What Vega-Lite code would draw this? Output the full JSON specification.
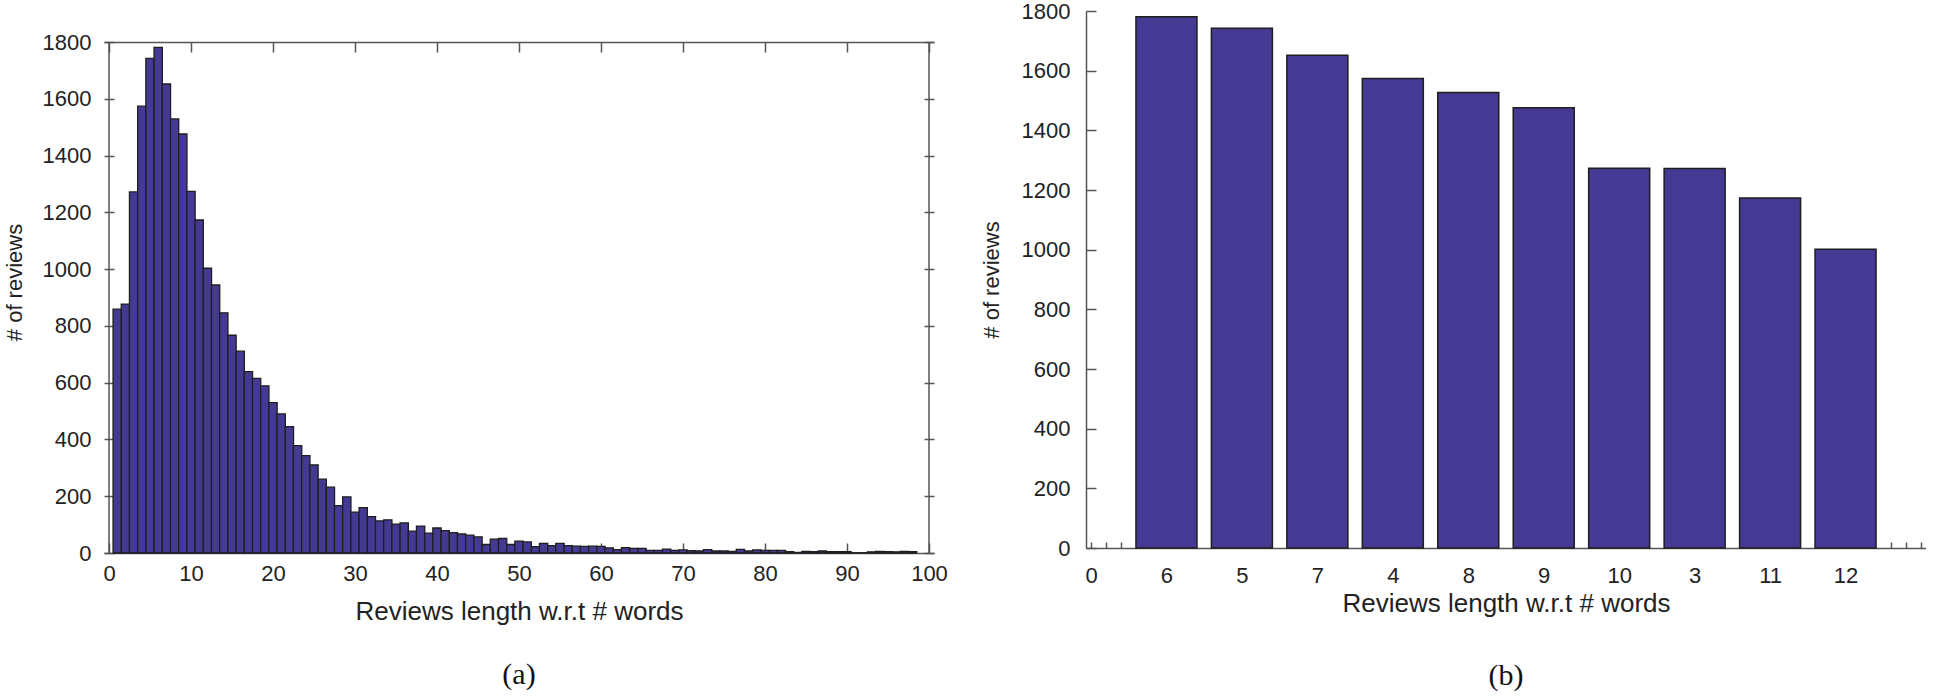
{
  "$schema": "https://vega.github.io/schema/vega-lite/v6.json",
  "padding": {"left": 3, "top": 0, "right": 0, "bottom": 0},
  "background": "white",
  "config": {
    "font": "Liberation Sans",
    "view": {"stroke": null},
    "axis": {
      "grid": false,
      "domainColor": "#555555",
      "tickColor": "#555555",
      "domainWidth": 1.5,
      "tickWidth": 1.5,
      "labelColor": "#222222",
      "labelFontSize": 22,
      "titleColor": "#222222",
      "titleFontWeight": "normal",
      "labelFlush": false,
      "labelOverlap": false,
      "format": "d"
    }
  },
  "datasets": {
    "hist": [
      {"len": 1, "count": 859}, {"len": 2, "count": 877}, {"len": 3, "count": 1272}, {"len": 4, "count": 1574},
      {"len": 5, "count": 1742}, {"len": 6, "count": 1781}, {"len": 7, "count": 1652}, {"len": 8, "count": 1529},
      {"len": 9, "count": 1476}, {"len": 10, "count": 1274}, {"len": 11, "count": 1173}, {"len": 12, "count": 1003},
      {"len": 13, "count": 944}, {"len": 14, "count": 846}, {"len": 15, "count": 767}, {"len": 16, "count": 711},
      {"len": 17, "count": 639}, {"len": 18, "count": 615}, {"len": 19, "count": 589}, {"len": 20, "count": 530},
      {"len": 21, "count": 490}, {"len": 22, "count": 445}, {"len": 23, "count": 378}, {"len": 24, "count": 343},
      {"len": 25, "count": 310}, {"len": 26, "count": 260}, {"len": 27, "count": 232}, {"len": 28, "count": 167},
      {"len": 29, "count": 198}, {"len": 30, "count": 144}, {"len": 31, "count": 160}, {"len": 32, "count": 128},
      {"len": 33, "count": 113}, {"len": 34, "count": 117}, {"len": 35, "count": 102}, {"len": 36, "count": 106},
      {"len": 37, "count": 77}, {"len": 38, "count": 95}, {"len": 39, "count": 70}, {"len": 40, "count": 88},
      {"len": 41, "count": 79}, {"len": 42, "count": 72}, {"len": 43, "count": 67}, {"len": 44, "count": 63},
      {"len": 45, "count": 57}, {"len": 46, "count": 30}, {"len": 47, "count": 49}, {"len": 48, "count": 51},
      {"len": 49, "count": 30}, {"len": 50, "count": 42}, {"len": 51, "count": 39}, {"len": 52, "count": 22},
      {"len": 53, "count": 34}, {"len": 54, "count": 26}, {"len": 55, "count": 34}, {"len": 56, "count": 26},
      {"len": 57, "count": 24}, {"len": 58, "count": 23}, {"len": 59, "count": 24}, {"len": 60, "count": 23},
      {"len": 61, "count": 18}, {"len": 62, "count": 12}, {"len": 63, "count": 19}, {"len": 64, "count": 16},
      {"len": 65, "count": 16}, {"len": 66, "count": 9}, {"len": 67, "count": 9}, {"len": 68, "count": 14},
      {"len": 69, "count": 9}, {"len": 70, "count": 11}, {"len": 71, "count": 8}, {"len": 72, "count": 7},
      {"len": 73, "count": 12}, {"len": 74, "count": 7}, {"len": 75, "count": 7}, {"len": 76, "count": 6},
      {"len": 77, "count": 13}, {"len": 78, "count": 7}, {"len": 79, "count": 11}, {"len": 80, "count": 9},
      {"len": 81, "count": 9}, {"len": 82, "count": 9}, {"len": 83, "count": 5}, {"len": 84, "count": 2},
      {"len": 85, "count": 6}, {"len": 86, "count": 5}, {"len": 87, "count": 7}, {"len": 88, "count": 5},
      {"len": 89, "count": 5}, {"len": 90, "count": 5}, {"len": 91, "count": 1}, {"len": 92, "count": 1},
      {"len": 93, "count": 4}, {"len": 94, "count": 6}, {"len": 95, "count": 5}, {"len": 96, "count": 4},
      {"len": 97, "count": 6}, {"len": 98, "count": 5}
    ],
    "top": [
      {"rank": 1, "len": "6", "count": 1781},
      {"rank": 2, "len": "5", "count": 1742},
      {"rank": 3, "len": "7", "count": 1652},
      {"rank": 4, "len": "4", "count": 1574},
      {"rank": 5, "len": "8", "count": 1527},
      {"rank": 6, "len": "9", "count": 1476},
      {"rank": 7, "len": "10", "count": 1273},
      {"rank": 8, "len": "3", "count": 1272},
      {"rank": 9, "len": "11", "count": 1173},
      {"rank": 10, "len": "12", "count": 1001}
    ]
  },
  "hconcat": [
    {
      "width": 830,
      "height": 542,
      "title": {"text": "(a)", "orient": "bottom", "anchor": "middle", "font": "Liberation Serif", "fontSize": 30, "fontWeight": "normal", "color": "#111111", "offset": 36},
      "layer": [
        {
          "data": {"name": "hist"},
          "mark": {"type": "bar", "width": 8.3, "fill": "#443A93", "stroke": "#1e1e1e", "strokeWidth": 1.3},
          "encoding": {
            "x": {"field": "len", "type": "quantitative", "scale": {"domain": [0, 100], "nice": false},
              "axis": {"orient": "bottom", "values": [0, 10, 20, 30, 40, 50, 60, 70, 80, 90, 100], "tickSize": -10, "labelPadding": 20,
                "title": "Reviews length w.r.t # words", "titleFontSize": 26, "titlePadding": 14}},
            "y": {"field": "count", "type": "quantitative", "scale": {"domain": [0, 1909.2], "nice": false},
              "axis": {"orient": "left", "domain": false, "values": [0, 200, 400, 600, 800, 1000, 1200, 1400, 1600, 1800], "tickSize": -10, "labelPadding": 23,
                "title": "# of reviews", "titleFontSize": 22, "titlePadding": 16}}
          }
        },
        {
          "data": {"values": [{}]},
          "mark": {"type": "rule", "color": "#555555", "strokeWidth": 1.5},
          "encoding": {
            "x": {"datum": 0, "type": "quantitative", "scale": {"domain": [0, 100], "nice": false},
              "axis": {"orient": "top", "offset": -31, "values": [0, 10, 20, 30, 40, 50, 60, 70, 80, 90, 100], "tickSize": -10, "labels": false, "title": null}},
            "y": {"datum": 0, "type": "quantitative", "scale": {"domain": [0, 1909.2], "nice": false}, "axis": null},
            "y2": {"datum": 1800}
          }
        },
        {
          "data": {"values": [{}]},
          "mark": {"type": "rule", "color": "#555555", "strokeWidth": 1.5},
          "encoding": {
            "x": {"datum": 100, "type": "quantitative", "scale": {"domain": [0, 100], "nice": false}, "axis": null},
            "y": {"datum": 0, "type": "quantitative", "scale": {"domain": [0, 1909.2], "nice": false},
              "axis": {"orient": "right", "domain": false, "values": [0, 200, 400, 600, 800, 1000, 1200, 1400, 1600, 1800], "tickSize": -10, "labels": false, "title": null}},
            "y2": {"datum": 1800}
          }
        }
      ],
      "resolve": {"axis": {"x": "independent", "y": "independent"}}
    },
    {
      "width": 840,
      "height": 537,
      "data": {"name": "top"},
      "title": {"text": "(b)", "orient": "bottom", "anchor": "middle", "font": "Liberation Serif", "fontSize": 30, "fontWeight": "normal", "color": "#111111", "offset": 45},
      "mark": {"type": "bar", "width": 61, "fill": "#443A93", "stroke": "#1e1e1e", "strokeWidth": 1.5},
      "encoding": {
        "x": {"field": "rank", "type": "quantitative", "scale": {"domain": [0, 11], "nice": false},
          "axis": {"orient": "bottom", "values": [0, 0.2, 0.4, 1, 2, 3, 4, 5, 6, 7, 8, 9, 10, 10.6, 10.8, 11], "tickSize": -6, "labelPadding": 23,
            "labelExpr": "datum.value == 0 ? '0' : (datum.value % 1 == 0 && datum.value <= 10 ? ['6','5','7','4','8','9','10','3','11','12'][datum.value - 1] : '')",
            "title": "Reviews length w.r.t # words", "titleFontSize": 26, "titlePadding": 4}},
        "y": {"field": "count", "type": "quantitative", "scale": {"domain": [0, 1800], "nice": false},
          "axis": {"orient": "left", "values": [0, 200, 400, 600, 800, 1000, 1200, 1400, 1600, 1800], "tickSize": -10, "labelPadding": 26,
            "title": "# of reviews", "titleFontSize": 22, "titlePadding": 18}}
      }
    }
  ],
  "spacing": 32
}
